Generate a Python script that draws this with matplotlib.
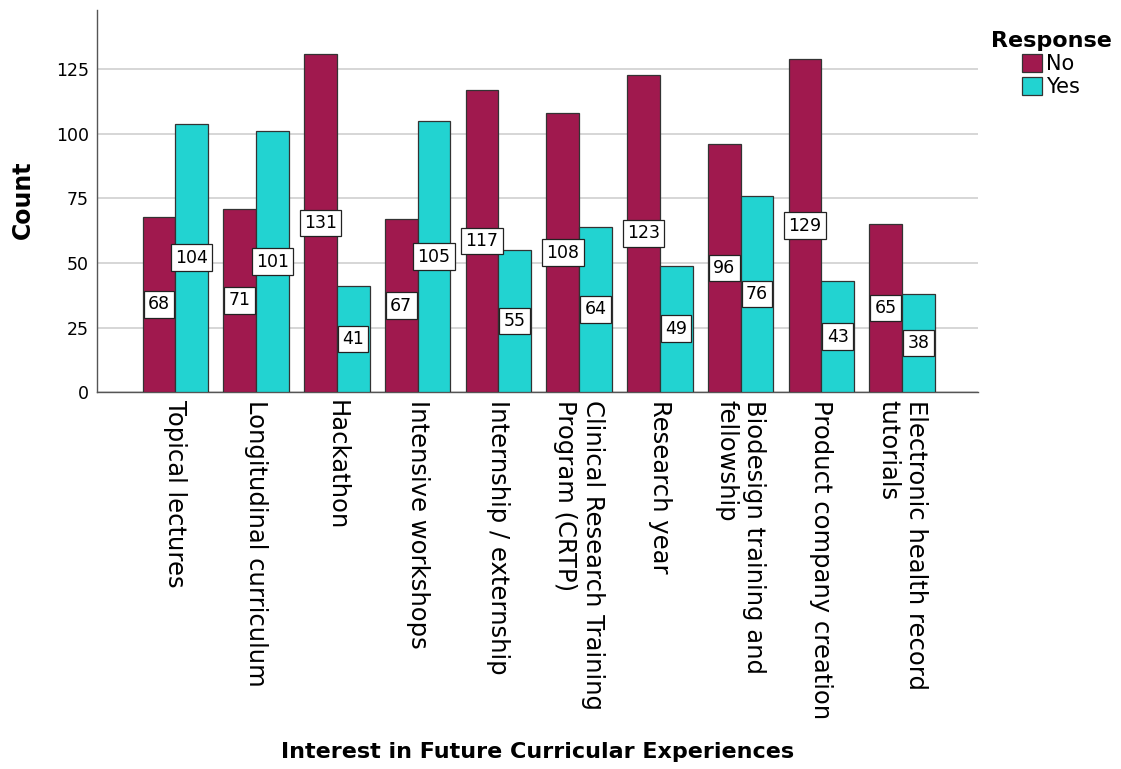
import matplotlib
matplotlib.use("Agg")
import matplotlib.pyplot as plt
import numpy as np

# survey counts per curricular experience
categories = ["Topical lectures", "Longitudinal curriculum", "Hackathon",
              "Intensive workshops", "Internship / externship",
              "Clinical Research Training\nProgram (CRTP)", "Research year",
              "Biodesign training and\nfellowship", "Product company creation",
              "Electronic health record\ntutorials"]
no_counts = [68, 71, 131, 67, 117, 108, 123, 96, 129, 65]
yes_counts = [104, 101, 41, 105, 55, 64, 49, 76, 43, 38]
yticks = [0, 25, 50, 75, 100, 125]

no_color = "#A0194E"
yes_color = "#22D3D1"

fig = plt.figure(figsize=(11.21, 7.69), dpi=100)
ax = fig.add_axes([0.0865, 0.4902, 0.7859, 0.4968])

x = np.arange(len(categories))
w = 0.405
b1 = ax.bar(x - w / 2, no_counts, w, color=no_color, edgecolor="#333333", linewidth=0.9, label="No", zorder=3)
b2 = ax.bar(x + w / 2, yes_counts, w, color=yes_color, edgecolor="#333333", linewidth=0.9, label="Yes", zorder=3)

# boxed value labels in the middle of each bar
for bars, vals in [(b1, no_counts), (b2, yes_counts)]:
    for r, v in zip(bars, vals):
        ax.text(r.get_x() + r.get_width() / 2, v / 2, str(v), ha="center", va="center",
                fontsize=12.5, zorder=4,
                bbox=dict(boxstyle="square,pad=0.25", fc="white", ec="#222222", lw=0.9))

ax.set_xlim(-0.97, 9.94)
ax.set_ylim(0, 148)
ax.set_yticks(yticks)
ax.set_xticks(x)
ax.set_xticklabels(categories, rotation=270, ha="center", va="top", fontsize=17.5,
                   multialignment="left")
ax.tick_params(axis="x", length=0, pad=6)
ax.tick_params(axis="y", length=0, labelsize=12.5, pad=6)
ax.yaxis.grid(True, color="#d0d0d0", linewidth=1.2, zorder=0)
ax.set_axisbelow(True)
for s in ["top", "right"]:
    ax.spines[s].set_visible(False)
for s in ["left", "bottom"]:
    ax.spines[s].set_color("#555555")
    ax.spines[s].set_linewidth(1)

fig.text(23 / 1121, 1 - 200 / 769, "Count", rotation=90, ha="center", va="center",
         fontsize=17, fontweight="bold")
fig.text(537.5 / 1121, 1 - 752 / 769, "Interest in Future Curricular Experiences",
         ha="center", va="center", fontsize=16, fontweight="bold")

leg = fig.legend(handles=[b1, b2], labels=["No", "Yes"], loc="upper center",
                 bbox_to_anchor=(1051 / 1121, 1 - 12 / 769), frameon=False,
                 title="Response", fontsize=15, title_fontsize=16,
                 handlelength=0.95, handleheight=0.95, handletextpad=0.2,
                 labelspacing=0.15)
leg.get_title().set_fontweight("bold")

fig.savefig("out.png", dpi=100)
